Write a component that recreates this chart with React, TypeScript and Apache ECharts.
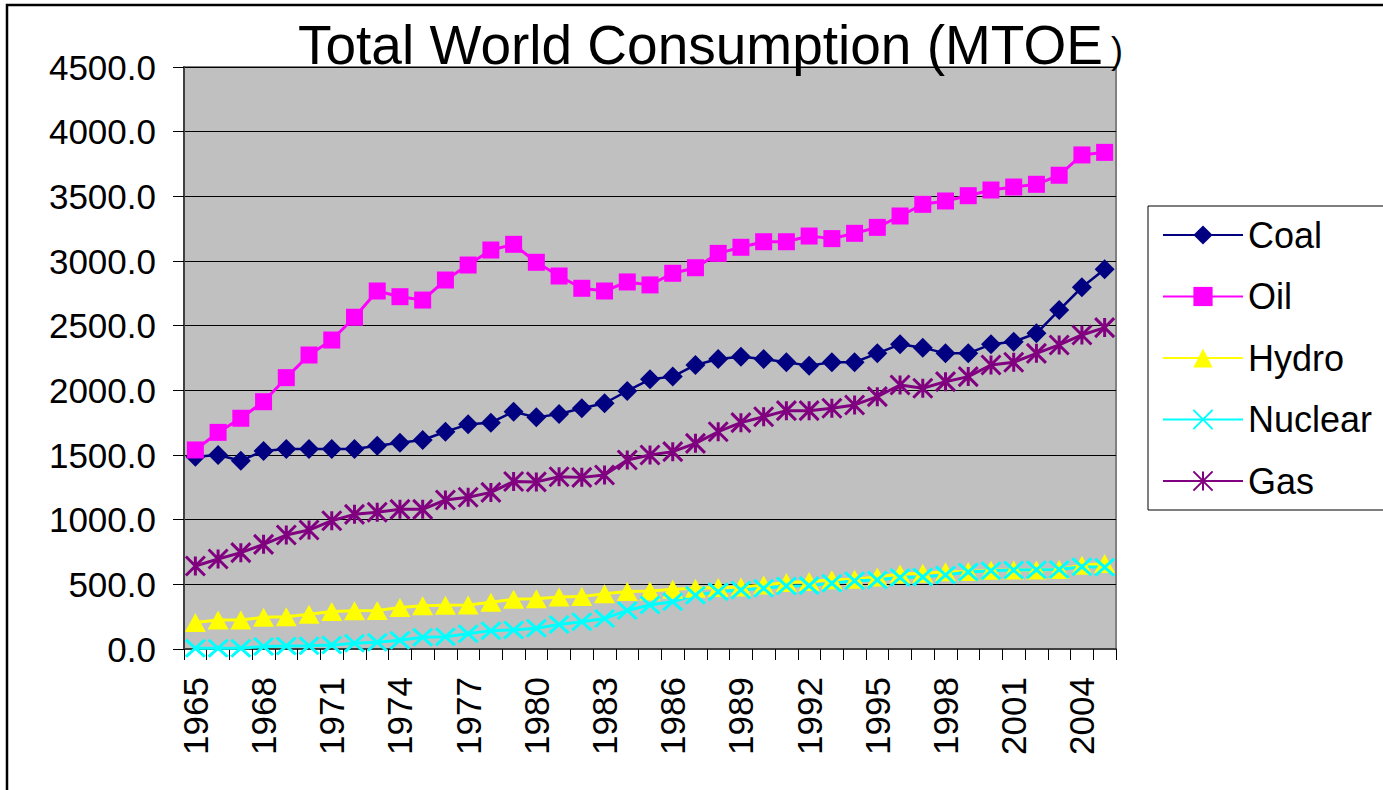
import React, { useEffect, useRef } from "react";
import * as echarts from "echarts";

const years: string[] = [];
for (let y = 1965; y <= 2005; y++) years.push(String(y));

const coal = [1487, 1500, 1456, 1531, 1546, 1546, 1546, 1546, 1572, 1595, 1616, 1680, 1737, 1750, 1835, 1791, 1817, 1861, 1900, 1995, 2085, 2106, 2196, 2242, 2260, 2242, 2217, 2191, 2217, 2217, 2286, 2356, 2330, 2286, 2286, 2356, 2376, 2441, 2621, 2797, 2936];
const oil = [1539, 1675, 1784, 1912, 2098, 2273, 2389, 2565, 2768, 2724, 2698, 2853, 2969, 3085, 3129, 2990, 2884, 2789, 2768, 2838, 2815, 2905, 2948, 3059, 3106, 3149, 3149, 3193, 3173, 3214, 3260, 3348, 3438, 3464, 3505, 3549, 3572, 3593, 3663, 3820, 3840];
const hydro = [205, 225, 224, 245, 250, 268, 290, 296, 298, 320, 335, 338, 340, 362, 385, 389, 402, 405, 428, 445, 448, 462, 470, 475, 480, 495, 515, 521, 535, 539, 556, 580, 585, 598, 600, 608, 611, 611, 615, 648, 662];
const nuclear = [5, 5, 6, 20, 24, 26, 30, 45, 52, 68, 90, 95, 118, 142, 147, 160, 190, 210, 235, 298, 340, 366, 415, 443, 456, 469, 487, 490, 508, 528, 534, 552, 556, 572, 596, 605, 610, 612, 614, 636, 632];
const gas = [642, 696, 745, 809, 881, 920, 992, 1041, 1057, 1080, 1080, 1152, 1173, 1211, 1295, 1292, 1332, 1327, 1345, 1461, 1500, 1526, 1590, 1680, 1750, 1796, 1843, 1843, 1861, 1887, 1951, 2041, 2016, 2067, 2106, 2196, 2217, 2286, 2351, 2428, 2485];

const yTicks = [0, 500, 1000, 1500, 2000, 2500, 3000, 3500, 4000, 4500];

const FONT = "'Liberation Sans', Arial, sans-serif";

export default function App() {
  const ref = useRef<HTMLDivElement>(null);
  useEffect(() => {
    document.body.style.margin = "0";
    const chart = echarts.init(ref.current!, null, { renderer: "svg" });
    const mk = (name: string, data: number[], color: string, symbol: string, size: any, lw: number, borderW: number) => ({
      name,
      type: "line",
      data,
      symbol,
      symbolSize: size,
      showAllSymbol: true,
      lineStyle: { color, width: lw },
      itemStyle: { color, borderColor: color, borderWidth: borderW },
      emphasis: { disabled: true },
    });
    chart.setOption({
      animation: false,
      backgroundColor: "#ffffff",
      textStyle: { fontFamily: FONT },
      title: {
        text: "Total World Consumption (MTOE",
        left: 298,
        top: 17,
        padding: 0,
        textStyle: { fontSize: 55, fontWeight: "normal", color: "#000", fontFamily: FONT },
      },
      graphic: [
        {
          type: "rect",
          shape: { x: 7, y: 5, width: 1420, height: 820 },
          style: { fill: "none", stroke: "#000", lineWidth: 2.5 },
          silent: true,
        },
        {
          type: "rect",
          shape: { x: 1148, y: 206, width: 300, height: 304 },
          style: { fill: "#fff", stroke: "#000", lineWidth: 1 },
          silent: true,
          z: 0,
        },
        {
          type: "text",
          x: 1111,
          y: 50,
          style: { text: ")", fontSize: 36, fontFamily: FONT, fill: "#000", verticalAlign: "middle" },
        },
      ],
      legend: {
        orient: "vertical",
        left: 1162,
        top: 217,
        padding: 0,
        itemWidth: 80,
        itemHeight: 24,
        itemGap: 25.5,
        textStyle: { fontSize: 36, color: "#000", fontFamily: FONT, lineHeight: 34 },
        z: 5,
      },
      grid: {
        left: 184,
        right: 267,
        top: 67,
        bottom: 141,
        show: true,
        backgroundColor: "#C0C0C0",
        borderColor: "#808080",
        borderWidth: 2,
      },
      xAxis: {
        type: "category",
        data: years,
        boundaryGap: true,
        axisLine: { show: true, lineStyle: { color: "#404040", width: 2 } },
        axisTick: { show: true, interval: 0, length: 11, lineStyle: { color: "#000" } },
        axisLabel: { interval: 2, rotate: 90, margin: 28, fontSize: 35, color: "#000", fontFamily: FONT },
        splitLine: { show: false },
      },
      yAxis: {
        type: "value",
        min: yTicks[0],
        max: yTicks[yTicks.length - 1],
        interval: 500,
        axisLine: { show: true, lineStyle: { color: "#404040", width: 2 } },
        axisTick: { show: true, length: 11, lineStyle: { color: "#000" } },
        axisLabel: { margin: 28, fontSize: 35, color: "#000", fontFamily: FONT, formatter: (v: number) => v.toFixed(1) },
        splitLine: { show: true, lineStyle: { color: "#000", width: 1 } },
      },
      series: [
        mk("Coal", coal, "#000080", "diamond", [20, 20], 2.5, 0),
        mk("Oil", oil, "#FF00FF", "rect", [17, 17], 3, 0),
        mk("Hydro", hydro, "#FFFF00", "triangle", [21, 19], 3, 0),
        mk("Nuclear", nuclear, "#00FFFF", "path://M0,0L10,10M10,0L0,10", [19, 17], 3, 3),
        mk("Gas", gas, "#800080", "path://M5,0L5,10M0,0L10,10M10,0L0,10", [19, 19], 3, 3),
      ],
    });
    return () => chart.dispose();
  }, []);
  return <div ref={ref} style={{ width: 1383, height: 790 }} />;
}
